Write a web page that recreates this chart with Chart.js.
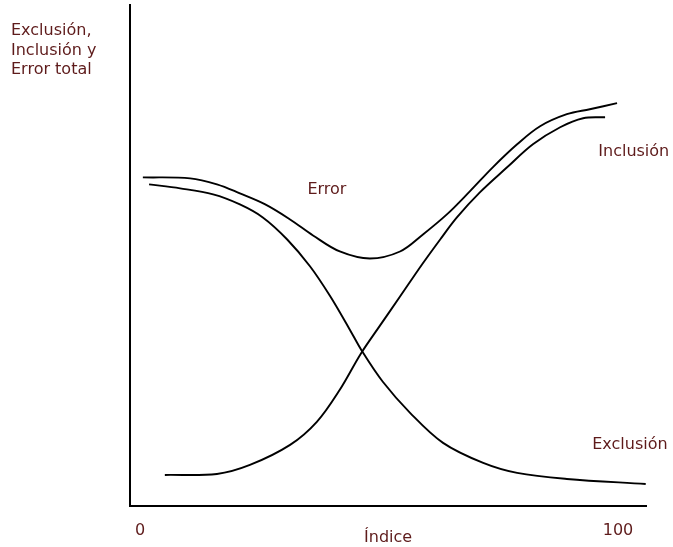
<!doctype html>
<html lang="es">
<head>
<meta charset="utf-8">
<script src="https://cdn.jsdelivr.net/npm/chart.js"></script>
<style>
  html, body { margin: 0; padding: 0; background: #fff; }
  #wrap { width: 673px; height: 547px; }
</style>
</head>
<body>
<div id="wrap"><canvas id="curvas"></canvas></div>
<script>
// valores (indice 0-100, eje vertical sin escala 0-100)
var errorX = [0.6, 10.5, 16.1, 20.9, 26.2, 31.4, 36.2, 41.8, 48.1, 54.4, 59.2, 64.2, 69.0, 73.8, 78.9, 83.7, 89.3, 94.1, 99.8];
var errorY = [65.6, 65.4, 64.2, 62.4, 60.2, 57.2, 54.0, 50.8, 49.4, 50.8, 54.2, 58.2, 62.8, 67.6, 72.2, 75.8, 78.2, 79.2, 80.4];

var exclX = [1.9, 8.4, 15.3, 20.9, 25.7, 30.8, 35.6, 39.7, 43.9, 46.4, 50.8, 56.5, 63.4, 71.8, 78.9, 89.3, 105.8];
var exclY = [64.2, 63.4, 62.2, 60.2, 57.6, 53.2, 47.8, 42.0, 35.2, 31.0, 24.8, 18.6, 12.6, 8.6, 6.6, 5.4, 4.4];

var inclX = [5.2, 16.1, 23.0, 31.4, 37.0, 41.8, 46.2, 50.2, 54.4, 59.0, 62.8, 66.3, 71.1, 76.8, 82.2, 87.9, 92.7, 97.3];
var inclY = [6.2, 6.4, 8.2, 12.2, 16.8, 23.2, 30.4, 36.0, 41.8, 48.2, 53.2, 57.6, 62.6, 67.6, 72.2, 75.6, 77.4, 77.6];

var xTicks = [0, 100];
var yTitle = ['Exclusión,', 'Inclusión y', 'Error total'];
var xTitle = 'Índice';

// etiquetas de las curvas [texto, x, y]
var curveLabels = [
  ['Error', 39.1, 63.2],
  ['Inclusión', 103.3, 70.6],
  ['Exclusión', 102.5, 12.2]
];

var textColor = '#5e1b1b';
var fontFamily = '"DejaVu Sans", Verdana, sans-serif';
var fontSpec = '16px ' + fontFamily;

function pts(xs, ys) {
  return xs.map(function (x, i) { return {x: x, y: ys[i]}; });
}

function serie(label, xs, ys) {
  return {
    label: label,
    data: pts(xs, ys),
    borderColor: '#000',
    borderWidth: 1.9,
    pointRadius: 0,
    fill: false,
    tension: 0.35
  };
}

/*------ textos: etiquetas de curvas y titulos de ejes ------*/
var textos = {
  id: 'textos',
  afterDraw: function (chart) {
    var ctx = chart.ctx, xs = chart.scales.x, ys = chart.scales.y;
    ctx.save();
    ctx.font = fontSpec;
    ctx.fillStyle = textColor;
    ctx.textBaseline = 'middle';

    ctx.textAlign = 'center';
    curveLabels.forEach(function (l) {
      ctx.fillText(l[0], xs.getPixelForValue(l[1]), ys.getPixelForValue(l[2]));
    });
    ctx.fillText(xTitle, xs.getPixelForValue(51.9), chart.chartArea.bottom + 32);

    ctx.textAlign = 'left';
    yTitle.forEach(function (t, i) {
      ctx.fillText(t, 11, 31 + i * 19.5);
    });
    ctx.restore();
  }
};

var chart = new Chart(document.getElementById('curvas'), {
  type: 'line',
  data: {
    datasets: [
      serie('Error', errorX, errorY),
      serie('Exclusión', exclX, exclY),
      serie('Inclusión', inclX, inclY)
    ]
  },
  options: {
    responsive: true,
    maintainAspectRatio: false,
    animation: false,
    layout: { padding: { left: 130, right: 27, top: 5, bottom: 0 } },
    plugins: { legend: { display: false }, tooltip: { enabled: false } },
    scales: {
      x: {
        type: 'linear',
        min: -2.09,
        max: 105.86,
        afterBuildTicks: function (s) { s.ticks = xTicks.map(function (v) { return {value: v}; }); },
        afterFit: function (s) { s.height = 41; },
        grid: { display: false, drawTicks: false },
        border: { display: true, color: '#000', width: 2 },
        ticks: { color: textColor, padding: 15, font: { family: fontFamily, size: 16 } }
      },
      y: {
        type: 'linear',
        min: 0,
        max: 100,
        afterFit: function (s) { s.width = 0; },
        grid: { display: false, drawTicks: false },
        border: { display: true, color: '#000', width: 2 },
        ticks: { display: false }
      }
    }
  },
  plugins: [textos]
});
</script>
</body>
</html>
